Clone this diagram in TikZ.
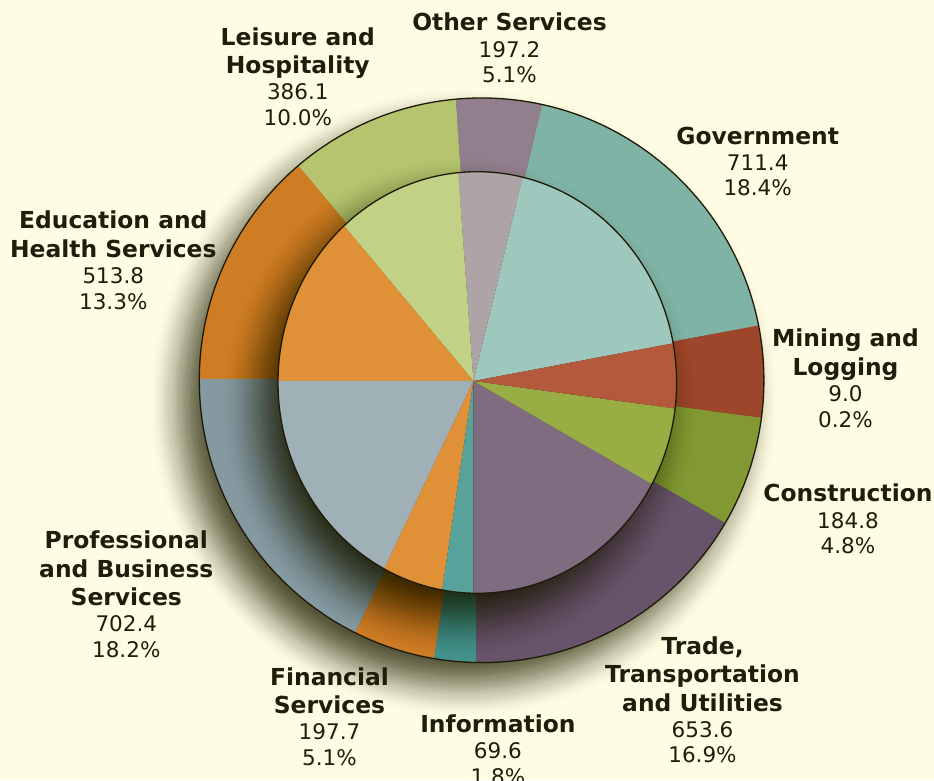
\documentclass[tikz,border=0pt]{standalone}
\usepackage{fontspec}
\setmainfont{DejaVu Sans}
\definecolor{bg}{HTML}{FEFDE4}
\definecolor{txt}{HTML}{1F1E0C}
\definecolor{edge}{HTML}{1E1A05}
\definecolor{shcol}{HTML}{1E1E00}
% outer ring colours
\definecolor{oGov}{HTML}{7FB3A5}
\definecolor{oOth}{HTML}{917F8D}
\definecolor{oLei}{HTML}{B4C46F}
\definecolor{oEdu}{HTML}{CE7D24}
\definecolor{oPro}{HTML}{8499A0}
\definecolor{oFin}{HTML}{CD7B25}
\definecolor{oInf}{HTML}{43918A}
\definecolor{oTra}{HTML}{67536A}
\definecolor{oCon}{HTML}{819833}
\definecolor{oMin}{HTML}{9D462B}
% inner disk colours
\definecolor{iGov}{HTML}{9EC7BD}
\definecolor{iOth}{HTML}{AEA4A6}
\definecolor{iLei}{HTML}{C1D286}
\definecolor{iEdu}{HTML}{E09036}
\definecolor{iPro}{HTML}{9FB0B7}
\definecolor{iFin}{HTML}{E09036}
\definecolor{iInf}{HTML}{57A29B}
\definecolor{iTra}{HTML}{806C81}
\definecolor{iCon}{HTML}{98AE44}
\definecolor{iMin}{HTML}{B45A3C}
\newcommand\nm[1]{{\bfseries\fontsize{23.4}{28}\selectfont #1}}
\newcommand\st{\rule{0pt}{20pt}}
\newcommand\pwedge[4]{\fill[#1] (#2) -- ++(#3:400pt) arc[start angle=#3, end angle=#4, radius=400pt] -- cycle;}
% soft shadow: cx, cy, rx, ry, half-width of the soft edge, strength
\newcommand\softshadow[6]{%
  \foreach \k in {1,...,40}{%
    \pgfmathsetmacro\shsa{min(1,(\k-0.5)/40)}%
    \pgfmathsetmacro\shsb{min(1,(\k+0.5)/40)}%
    \pgfmathsetmacro\shtk{1-#6*(1-3*\shsa*\shsa+2*\shsa*\shsa*\shsa)}%
    \pgfmathsetmacro\shtn{1-#6*(1-3*\shsb*\shsb+2*\shsb*\shsb*\shsb)}%
    \pgfmathsetmacro\shal{1-\shtk/\shtn}%
    \pgfmathsetmacro\shrx{#3-#5+2*#5*\k/40}%
    \pgfmathsetmacro\shry{#4-#5+2*#5*\k/40}%
    \fill[shcol, opacity=\shal] (#1,#2) ellipse [x radius=\shrx pt, y radius=\shry pt];
  }}
\tikzset{
  lbl/.style={align=center, inner sep=0pt, anchor=north, text=txt,
              font=\fontsize{21.5}{25.6}\selectfont},
  ringline/.style={draw=edge, line width=1.3pt},
}
\begin{document}
\begin{tikzpicture}[x=1pt,y=1pt]
  \fill[bg] (0,0) rectangle (934,780);
  \useasboundingbox (0,0) rectangle (934,780);
  \coordinate (C1) at (481.6,399.7);
  \coordinate (O1) at (476,401.2);
  \coordinate (C2) at (477.3,397.5);
  \coordinate (O2) at (473.4,399);
  % shadow of the whole pie
  \softshadow{463.6}{377.7}{282.3}{282.3}{34}{0.72}
  % outer ring
  \begin{scope}
    \clip (C1) circle[radius=282.3pt];
    \pwedge{oGov}{O1}{10.7}{76.4}
    \pwedge{oOth}{O1}{76.4}{94.2}
    \pwedge{oLei}{O1}{94.2}{129.8}
    \pwedge{oEdu}{O1}{129.8}{180}
    \pwedge{oPro}{O1}{180}{244.6}
    \pwedge{oFin}{O1}{244.6}{261.5}
    \pwedge{oInf}{O1}{261.5}{270}
    \pwedge{oTra}{O1}{270}{330}
    \pwedge{oCon}{O1}{330}{352.2}
    \pwedge{oMin}{O1}{352.2}{370.7}
    % shadow of the inner disk on the ring
    \softshadow{459.3}{373.5}{199.3}{210.8}{40}{0.8}
  \end{scope}
  \draw[ringline] (C1) circle[radius=282.3pt];
  % inner disk
  \begin{scope}
    \clip (C2) ellipse[x radius=199.3pt, y radius=210.8pt];
    \pwedge{iGov}{O2}{10.7}{76.4}
    \pwedge{iOth}{O2}{76.4}{94.2}
    \pwedge{iLei}{O2}{94.2}{129.8}
    \pwedge{iEdu}{O2}{129.8}{180}
    \pwedge{iPro}{O2}{180}{244.6}
    \pwedge{iFin}{O2}{244.6}{261.5}
    \pwedge{iInf}{O2}{261.5}{270}
    \pwedge{iTra}{O2}{270}{330}
    \pwedge{iCon}{O2}{330}{352.2}
    \pwedge{iMin}{O2}{352.2}{370.7}
  \end{scope}
  \draw[ringline] (C2) ellipse[x radius=199.3pt, y radius=210.8pt];
  % labels
  \node[lbl] (lei) at (297.8,755) {\st\nm{Leisure and}\\[2.9pt]\nm{Hospitality}\\[0.6pt]386.1\\10.0\%};
  \node[lbl] (oth) at (509.5,769.3) {\st\nm{Other Services}\\[0.6pt]197.2\\5.1\%};
  \node[lbl] (gov) at (757.7,656) {\st\nm{Government}\\[0.6pt]711.4\\18.4\%};
  \node[lbl] (edu) at (113.3,571.3) {\st\nm{Education and}\\[2.9pt]\nm{Health Services}\\[0.6pt]513.8\\13.3\%};
  \node[lbl] (min) at (845.5,453.3) {\st\nm{Mining and}\\[2.9pt]\nm{Logging}\\[0.6pt]9.0\\0.2\%};
  \node[lbl] (con) at (848,298.3) {\st\nm{Construction}\\[0.6pt]184.8\\4.8\%};
  \node[lbl] (pro) at (126.3,251.7) {\st\nm{Professional}\\[2.9pt]\nm{and Business}\\[2.9pt]\nm{Services}\\[0.6pt]702.4\\18.2\%};
  \node[lbl] (fin) at (329.5,115) {\st\nm{Financial}\\[2.9pt]\nm{Services}\\[0.6pt]197.7\\5.1\%};
  \node[lbl] (inf) at (497.9,67.7) {\st\nm{Information}\\[0.6pt]69.6\\1.8\%};
  \node[lbl] (tra) at (702.5,146.1) {\st\nm{Trade,}\\[2.9pt]\nm{Transportation}\\[2.9pt]\nm{and Utilities}\\[0.6pt]653.6\\16.9\%};
\end{tikzpicture}
\end{document}
